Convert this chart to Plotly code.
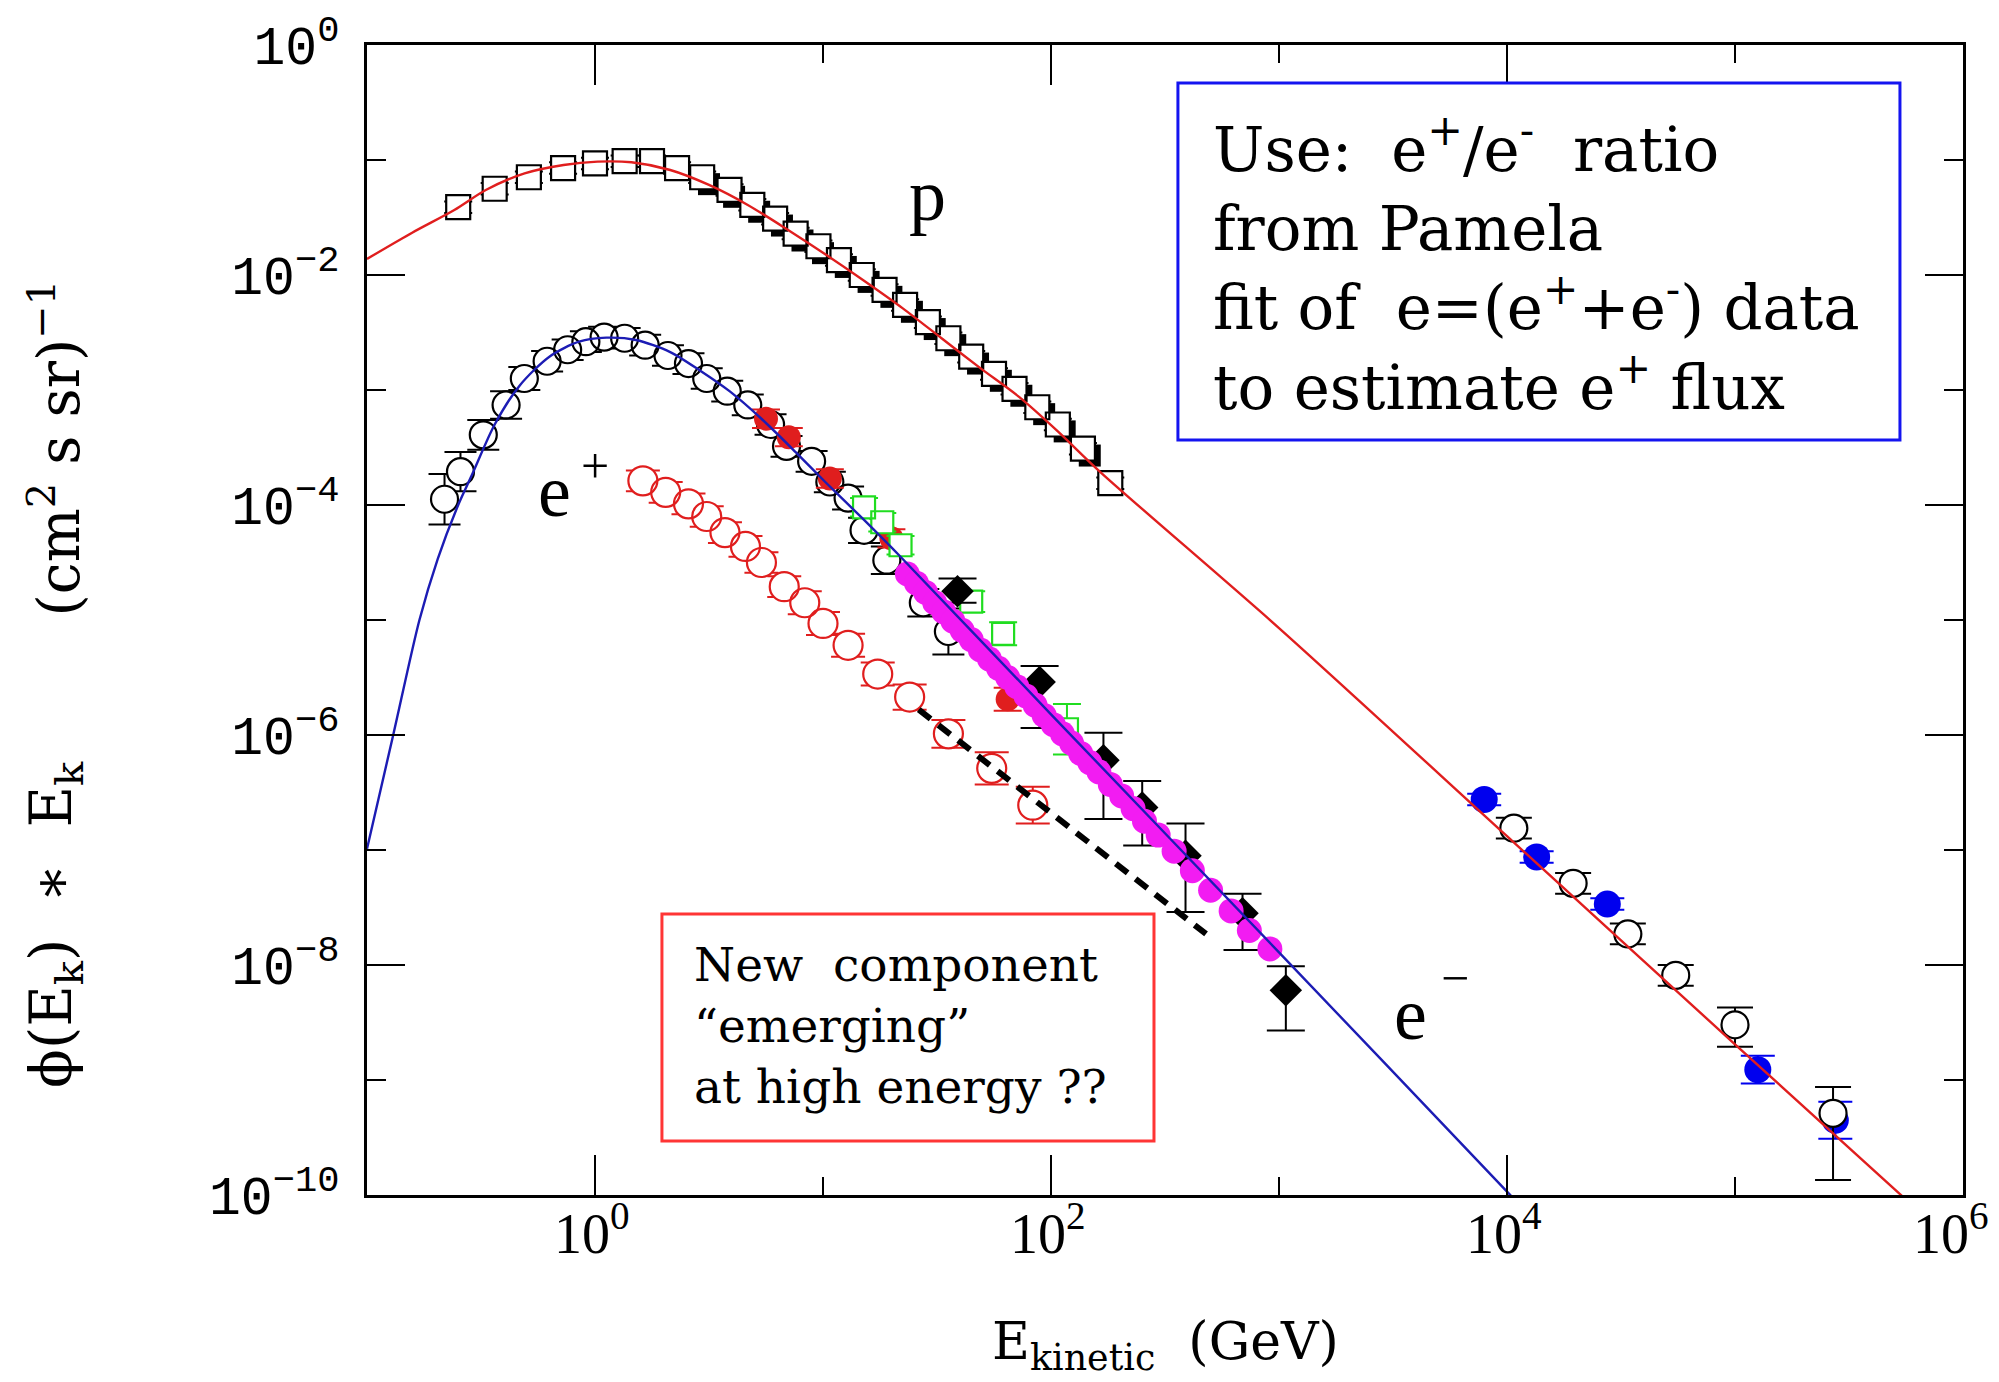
import math
import plotly.graph_objects as go

# ---------------- data: log10(E_k / GeV) and log10(phi*E_k) ----------------
# proton spectrum (open squares)
p_logE = [-0.60, -0.44, -0.29, -0.14, 0.00, 0.13, 0.25, 0.36, 0.47, 0.59, 0.69, 0.79, 0.88, 0.98,
          1.07, 1.17, 1.27, 1.36, 1.46, 1.55, 1.65, 1.75, 1.84, 1.94, 2.03, 2.14, 2.26]
p_logF = [-1.41, -1.25, -1.15, -1.07, -1.03, -1.01, -1.01, -1.07, -1.15, -1.26, -1.39, -1.51, -1.64, -1.75,
          -1.87, -2.00, -2.13, -2.26, -2.41, -2.55, -2.71, -2.86, -2.99, -3.15, -3.30, -3.51, -3.81]
p_err = [0.05] * 27

# second proton data set (filled squares, mostly hidden behind the first)
p2_logE = [0.50, 0.61, 0.72, 0.82, 0.91, 1.00, 1.10, 1.20, 1.30, 1.39, 1.49, 1.58, 1.68, 1.78, 1.87, 1.97,
           2.06, 2.17]
p2_logF = [-1.21, -1.32, -1.45, -1.57, -1.70, -1.81, -1.93, -2.06, -2.19, -2.32, -2.47, -2.61, -2.77, -2.92,
           -3.05, -3.21, -3.36, -3.57]

# proton model curve
pc_logE = [-1.00, -0.80, -0.617, -0.479, -0.309, -0.138, 0.011, 0.16, 0.33, 0.50, 0.67, 0.84, 1.01, 1.18,
           1.35, 1.52, 1.69, 1.86, 2.03, 2.22, 3.00, 4.00, 5.00, 5.80]
pc_logF = [-1.86, -1.63, -1.435, -1.261, -1.116, -1.043, -1.014, -1.02, -1.087, -1.217, -1.391, -1.60, -1.82,
           -2.05, -2.29, -2.55, -2.81, -3.06, -3.36, -3.72, -5.07, -6.88, -8.69, -10.13]

# electron spectrum (open circles)
em_logE = [-0.66, -0.59, -0.49, -0.39, -0.31, -0.21, -0.12, -0.04, 0.04, 0.13, 0.22, 0.32, 0.41, 0.49,
           0.58, 0.67, 0.77, 0.84, 0.95, 1.03, 1.11, 1.18, 1.28, 1.44, 1.55]
em_logF = [-3.95, -3.71, -3.39, -3.13, -2.90, -2.75, -2.65, -2.58, -2.54, -2.55, -2.61, -2.70, -2.77, -2.90,
           -3.01, -3.13, -3.30, -3.49, -3.62, -3.80, -3.94, -4.22, -4.48, -4.85, -5.10]
em_err = [0.22, 0.17, 0.13, 0.12, 0.10, 0.09, 0.09, 0.09, 0.09, 0.09, 0.09, 0.09, 0.09, 0.09,
          0.09, 0.09, 0.09, 0.09, 0.09, 0.09, 0.10, 0.11, 0.12, 0.12, 0.20]

# electrons, red filled markers
er_logE = [0.75, 0.85, 1.03, 1.30, 1.81]
er_logF = [-3.25, -3.41, -3.77, -4.29, -5.69]
er_err = [0.08, 0.08, 0.08, 0.08, 0.10]

# electrons, green open squares
eg_logE = [1.18, 1.26, 1.34, 1.65, 1.79, 2.07]
eg_logF = [-4.02, -4.15, -4.35, -4.84, -5.12, -5.95]
eg_err = [0.08, 0.08, 0.08, 0.09, 0.10, 0.22]

# electrons, black filled diamonds with large errors
ed_logE = [1.59, 1.95, 2.23, 2.40, 2.59, 2.84, 3.03]
ed_logF = [-4.75, -5.54, -6.22, -6.63, -7.05, -7.55, -8.22]
ed_up = [0.11, 0.14, 0.24, 0.23, 0.28, 0.17, 0.21]
ed_dn = [0.10, 0.40, 0.51, 0.33, 0.49, 0.32, 0.35]

# electrons, magenta filled circles
ef_logE = [1.37, 1.41, 1.45, 1.49, 1.53, 1.57, 1.61, 1.65, 1.69, 1.73, 1.77, 1.81, 1.85, 1.89, 1.93, 1.97,
           2.01, 2.05, 2.09, 2.13, 2.17, 2.21, 2.26, 2.31, 2.36, 2.41, 2.47, 2.54, 2.62, 2.70, 2.79, 2.87, 2.96]
ef_logF = [-4.60, -4.68, -4.76, -4.85, -4.93, -5.01, -5.09, -5.17, -5.26, -5.34, -5.42, -5.50, -5.58, -5.66,
           -5.74, -5.83, -5.91, -5.99, -6.07, -6.16, -6.24, -6.32, -6.43, -6.53, -6.64, -6.75, -6.87, -7.01,
           -7.18, -7.35, -7.53, -7.70, -7.86]

# electron model curve
ec_logE = [-1.00, -0.885, -0.77, -0.69, -0.60, -0.54, -0.44, -0.33, -0.20, -0.07, 0.05, 0.18, 0.33, 0.46,
           0.59, 0.73, 0.88, 1.01, 1.18, 1.34, 2.00, 3.00, 4.00, 4.10]
ec_logF = [-6.99, -6.00, -5.00, -4.47, -4.00, -3.74, -3.30, -2.96, -2.71, -2.58, -2.545, -2.565, -2.67, -2.83,
           -3.01, -3.25, -3.54, -3.80, -4.13, -4.45, -5.82, -7.89, -9.97, -10.18]

# positron spectrum (red open circles)
ep_logE = [0.21, 0.31, 0.41, 0.49, 0.57, 0.66, 0.73, 0.83, 0.92, 1.00, 1.11, 1.24, 1.38, 1.55, 1.74, 1.92]
ep_logF = [-3.79, -3.89, -3.99, -4.10, -4.24, -4.36, -4.50, -4.71, -4.85, -5.03, -5.22, -5.47, -5.67, -5.99,
           -6.29, -6.61]
ep_err = [0.09, 0.09, 0.09, 0.09, 0.09, 0.09, 0.09, 0.09, 0.10, 0.10, 0.10, 0.10, 0.11, 0.12, 0.14, 0.16]

# extrapolated positron trend (dashed)
ex_logE = [1.42, 2.68]
ex_logF = [-5.78, -7.73]

# highest energies: blue filled and black open circles
hb_logE = [3.90, 4.13, 4.44, 5.10, 5.44]
hb_logF = [-6.56, -7.06, -7.47, -8.91, -9.35]
hb_err = [0.05, 0.05, 0.05, 0.12, 0.16]
hk_logE = [4.03, 4.29, 4.53, 4.74, 5.00, 5.43]
hk_logF = [-6.81, -7.29, -7.73, -8.09, -8.52, -9.29]
hk_up = [0.09, 0.09, 0.09, 0.09, 0.15, 0.23]
hk_dn = [0.09, 0.09, 0.09, 0.09, 0.19, 0.58]

x_ticks = [1e0, 1e2, 1e4, 1e6]
x_tick_exp = ["0", "2", "4", "6"]
x_minor = [1e-1, 1e1, 1e3, 1e5]
y_ticks = [1e0, 1e-2, 1e-4, 1e-6, 1e-8, 1e-10]
y_ticktext = ["10<sup>0</sup>", "10<sup>\u22122</sup>", "10<sup>\u22124</sup>", "10<sup>\u22126</sup>",
              "10<sup>\u22128</sup>", "10<sup>\u221210</sup>"]
y_minor = [1e-1, 1e-3, 1e-5, 1e-7, 1e-9]

X_RANGE = [-1, 6]
Y_RANGE = [-10, 0]


def lin(vals):
    return [10 ** v for v in vals]


def err_bars(logF, up, dn, color, width, thick=2):
    plus = [10 ** (f + u) - 10 ** f for f, u in zip(logF, up)]
    minus = [10 ** f - 10 ** (f - d) for f, d in zip(logF, dn)]
    return dict(type="data", symmetric=False, array=plus, arrayminus=minus,
                color=color, thickness=thick, width=width)


RED = "#e01e1e"
BLUE = "#1c1cb4"
MAG = "#f21cf2"
GREEN = "#20dd20"

fig = go.Figure()


def open_points(logE, logF, up, dn, symbol, size, color, cap):
    # white-filled backing carries the error bars so they only show outside the marker
    fig.add_trace(go.Scatter(x=lin(logE), y=lin(logF), mode="markers",
                             error_y=err_bars(logF, up, dn, color, cap),
                             marker=dict(symbol=symbol, size=size, color="white", line=dict(width=0))))
    fig.add_trace(go.Scatter(x=lin(logE), y=lin(logF), mode="markers",
                             marker=dict(symbol=symbol + "-open", size=size, color=color, line=dict(width=2.2))))


# protons
fig.add_trace(go.Scatter(x=lin(p2_logE), y=lin(p2_logF), mode="markers",
                         marker=dict(symbol="square", size=22, color="black")))
open_points(p_logE, p_logF, p_err, p_err, "square", 24, "black", 14)

# electrons
open_points(em_logE, em_logF, em_err, em_err, "circle", 27, "black", 16)
fig.add_trace(go.Scatter(x=lin(er_logE), y=lin(er_logF), mode="markers",
                         error_y=err_bars(er_logF, er_err, er_err, RED, 14),
                         marker=dict(symbol="circle", size=24, color=RED)))
open_points(eg_logE, eg_logF, eg_err, eg_err, "square", 22, GREEN, 14)
fig.add_trace(go.Scatter(x=lin(ed_logE), y=lin(ed_logF), mode="markers",
                         error_y=err_bars(ed_logF, ed_up, ed_dn, "black", 19),
                         marker=dict(symbol="diamond", size=25, color="black")))
fig.add_trace(go.Scatter(x=lin(ef_logE), y=lin(ef_logF), mode="markers",
                         marker=dict(symbol="circle", size=25, color=MAG)))

# positrons
open_points(ep_logE, ep_logF, ep_err, ep_err, "circle", 29, RED, 17)
fig.add_trace(go.Scatter(x=lin(ex_logE), y=lin(ex_logF), mode="lines",
                         line=dict(color="black", width=6, dash="15px,10px")))

# highest energy points
fig.add_trace(go.Scatter(x=lin(hb_logE), y=lin(hb_logF), mode="markers",
                         error_y=err_bars(hb_logF, hb_err, hb_err, "#0000ee", 17),
                         marker=dict(symbol="circle", size=27, color="#0000ee")))
open_points(hk_logE, hk_logF, hk_up, hk_dn, "circle", 27, "black", 18)

# model curves
fig.add_trace(go.Scatter(x=lin(pc_logE), y=lin(pc_logF), mode="lines",
                         line=dict(color=RED, width=2.4, shape="spline", smoothing=0.8)))
fig.add_trace(go.Scatter(x=lin(ec_logE), y=lin(ec_logF), mode="lines",
                         line=dict(color=BLUE, width=2.4, shape="spline", smoothing=0.8)))

axis_common = dict(type="log", showline=True, linewidth=3, linecolor="black", mirror="ticks",
                   ticks="inside", tickwidth=2, tickcolor="black", showgrid=False, zeroline=False)

fig.update_xaxes(range=X_RANGE, tickvals=x_ticks, showticklabels=False, ticklen=40,
                 minor=dict(tickvals=x_minor, ticks="inside", ticklen=18, tickwidth=2, tickcolor="black",
                            showgrid=False),
                 **axis_common)
fig.update_yaxes(range=Y_RANGE, tickvals=y_ticks, ticktext=y_ticktext, ticklen=38,
                 tickfont=dict(family="Liberation Mono", size=53, color="black"), ticklabelstandoff=14,
                 ticklabeloverflow="allow",
                 minor=dict(tickvals=y_minor, ticks="inside", ticklen=19, tickwidth=2, tickcolor="black",
                            showgrid=False),
                 **axis_common)

ann = []


def text(x, y, s, size, family="DejaVu Serif", xa="left", ya="bottom", angle=0, color="black"):
    ann.append(dict(x=x, y=y, xref="paper", yref="paper", text=s, showarrow=False, xanchor=xa, yanchor=ya,
                    align="left", textangle=angle, font=dict(family=family, size=size, color=color)))


# x tick labels under each labelled decade; the last one is kept inside the page edge
for i, (v, e) in enumerate(zip(x_ticks, x_tick_exp)):
    px = (math.log10(v) - X_RANGE[0]) / (X_RANGE[1] - X_RANGE[0])
    if i == len(x_ticks) - 1:
        text(1.0175, -0.0625, "10<sup>" + e + "</sup>", 56, "Liberation Serif", xa="right")
    else:
        text(px - 0.002, -0.0625, "10<sup>" + e + "</sup>", 56, "Liberation Serif", xa="center")

NB = "\u00a0"
# curve labels
text(0.3509, 0.8325, "p", 74, "Liberation Serif", xa="center")
text(0.1172, 0.5748, "e", 74, "Liberation Serif", xa="center")
text(0.1429, 0.6343, "+", 50, "Liberation Serif", xa="center", ya="middle")
text(0.6541, 0.1200, "e", 74, "Liberation Serif", xa="center")
text(0.6817, 0.1891, "\u2212", 50, "Liberation Serif", xa="center", ya="middle")

# blue box text
text(0.5288, 0.6692,
     "Use:" + NB * 2 + "e<sup>+</sup>/e<sup>-</sup>" + NB * 2 + "ratio<br>"
     "from Pamela<br>"
     "fit of" + NB * 2 + "e=(e<sup>+</sup>+e<sup>-</sup>) data<br>"
     "to estimate e<sup>+</sup> flux", 61)

# red box text
text(0.2034, 0.0688, "New" + NB * 2 + "component<br>\u201cemerging\u201d<br>at high energy ??", 47)

# axis titles
text(0.5, -0.1304, "E<sub>kinetic</sub>" + NB * 2 + "(GeV)", 52, xa="center", ya="middle")
text(-0.1955, 0.2357, "\u03d5(E<sub>k</sub>)" + NB * 2 + "\u2217" + NB * 2 + "E<sub>k</sub>", 57,
     xa="center", ya="middle", angle=-90)
text(-0.1955, 0.65, "(cm<sup>2</sup>" + NB + "s" + NB + "sr)<sup>\u22121</sup>", 57,
     xa="center", ya="middle", angle=-90)

shapes = [
    dict(type="rect", xref="paper", yref="paper", x0=0.5081, x1=0.9605, y0=0.6565, y1=0.9670,
         line=dict(color="#1414f0", width=3), fillcolor="white", layer="above"),
    dict(type="rect", xref="paper", yref="paper", x0=0.1848, x1=0.4931, y0=0.04696, y1=0.2443,
         line=dict(color="#ff3535", width=3), fillcolor="white", layer="above"),
]

fig.update_layout(width=1999, height=1382, margin=dict(l=367, r=36, t=45, b=187, autoexpand=False),
                  paper_bgcolor="white", plot_bgcolor="white", showlegend=False,
                  font=dict(family="DejaVu Serif", color="black"), annotations=ann, shapes=shapes)

fig.write_html("out.html")
